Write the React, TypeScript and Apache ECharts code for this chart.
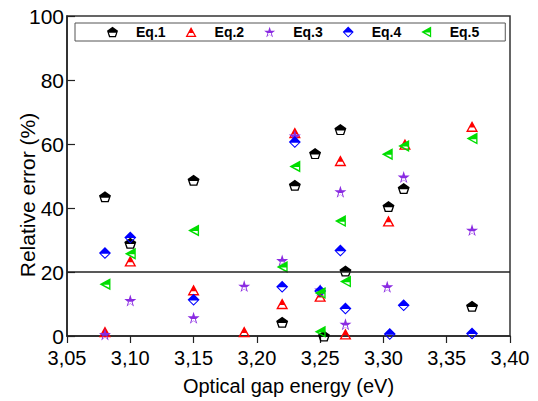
import React, { useEffect, useRef } from "react";
import * as echarts from "echarts";

const seriesNames = ["Eq.1", "Eq.2", "Eq.3", "Eq.4", "Eq.5"];
const seriesColors = ["#000000", "#ff0000", "#8a2be2", "#0000ff", "#00dd00"];

const eq1: number[][] = [
  [3.08, 43.5], [3.1, 29], [3.15, 48.7], [3.22, 4.3], [3.23, 47.1], [3.246, 57],
  [3.253, 0], [3.266, 64.5], [3.27, 20.3], [3.304, 40.5], [3.316, 46.1], [3.37, 9.3],
];
const eq2: number[][] = [
  [3.08, 1.3], [3.1, 23.4], [3.15, 14.4], [3.19, 1.3], [3.22, 10.1], [3.23, 63.5],
  [3.25, 12.4], [3.266, 54.8], [3.27, 0.6], [3.304, 35.9], [3.317, 59.9], [3.37, 65.5],
];
const eq3: number[][] = [
  [3.08, 0.5], [3.1, 11.1], [3.15, 5.7], [3.19, 15.6], [3.22, 23.6], [3.23, 62.5],
  [3.25, 14.4], [3.266, 45.1], [3.27, 3.7], [3.303, 15.4], [3.316, 49.7], [3.37, 33.1],
];
const eq4: number[][] = [
  [3.08, 25.9], [3.1, 30.8], [3.15, 11.3], [3.22, 15.4], [3.23, 60.6], [3.25, 14.1],
  [3.266, 26.7], [3.27, 8.6], [3.305, 0.6], [3.316, 9.6], [3.37, 0.8],
];
const eq5: number[][] = [
  [3.08, 16.2], [3.1, 25.7], [3.15, 33], [3.22, 21.6], [3.23, 53], [3.25, 13.4],
  [3.25, 1.3], [3.266, 35.9], [3.27, 17], [3.303, 56.8], [3.316, 59.4], [3.37, 61.7],
];
const seriesData = [eq1, eq2, eq3, eq4, eq5];

const thresholdValue = 20;
const xTitle = "Optical gap energy (eV)";
const yTitle = "Relative error (%)";

// half-filled marker shapes (top filled, bottom hollow)
const symbols = [
  "path://M10,0 L20,7.3 L16.2,19 L3.8,19 L0,7.3 Z M3.4,11 L5.6,16.9 L14.4,16.9 L16.6,11 Z",
  "path://M10,0 L20,18 L0,18 Z M6.6,11 L3.8,15.8 L16.2,15.8 L13.4,11 Z",
  "path://M10,0 L12.25,6.91 L19.51,6.91 L13.63,11.18 L15.88,18.09 L10,13.82 L4.12,18.09 L6.37,11.18 L0.49,6.91 L7.75,6.91 Z M6.85,10.92 L7.82,11.63 L6.47,15.77 L10,13.21 L13.53,15.77 L12.18,11.63 L13.15,10.92 Z",
  "path://M10,0 L20,10 L10,20 L0,10 Z M3.4,11 L10,17.5 L16.6,11 Z",
  "path://M0,10 L18,0 L18,20 Z M6.6,11 L15.8,16 L15.8,11 Z",
];
const symbolSizes = [[12, 11], [12, 11], [12, 12], [12, 12], [11, 12]];

const FONT = "'Liberation Sans', Arial, sans-serif";

export default function App() {
  const ref = useRef<HTMLDivElement>(null);
  useEffect(() => {
    if (!ref.current) return;
    const chart = echarts.init(ref.current, undefined, { renderer: "svg" });
    const series: any[] = seriesNames.map((name, i) => ({
      name,
      type: "scatter",
      data: seriesData[i],
      symbol: symbols[i],
      symbolSize: symbolSizes[i],
      itemStyle: { color: seriesColors[i], opacity: 1 },
      emphasis: { disabled: true },
      ...(i === 0
        ? {
            markLine: {
              silent: true,
              symbol: ["none", "none"],
              label: { show: false },
              lineStyle: { color: "#222", type: "solid", width: 1.5 },
              data: [{ yAxis: thresholdValue }],
            },
          }
        : {}),
    }));
    chart.setOption({
      animation: false,
      grid: {
        left: 67,
        right: 28,
        top: 16,
        bottom: 59,
        show: true,
        borderColor: "#333",
        borderWidth: 1.5,
      },
      legend: {
        left: 75,
        top: 23,
        padding: [2, 26, 2, 32],
        itemWidth: 11,
        itemHeight: 11,
        itemGap: 20,
        borderColor: "#555",
        borderWidth: 1,
        data: seriesNames,
        textStyle: {
          fontSize: 14,
          fontWeight: "bold",
          fontFamily: FONT,
          color: "#000",
          padding: [0, 0, 0, 13],
        },
      },
      graphic: [
        {
          type: "text",
          x: 27,
          y: 195,
          rotation: Math.PI / 2,
          style: {
            text: yTitle,
            fontSize: 21,
            fontFamily: FONT,
            fill: "#000",
            textAlign: "center",
            textVerticalAlign: "middle",
          },
        },
      ],
      xAxis: {
        type: "value",
        min: 3.05,
        max: 3.4,
        interval: 0.05,
        name: xTitle,
        nameLocation: "middle",
        nameGap: 40,
        nameTextStyle: { fontSize: 20, fontFamily: FONT, color: "#000" },
        axisLine: { lineStyle: { color: "#222", width: 1.5 } },
        axisTick: { show: true, inside: false, length: 7, lineStyle: { color: "#222", width: 1.2 } },
        axisLabel: {
          fontSize: 20,
          fontFamily: FONT,
          color: "#000",
          margin: 12,
          formatter: (v: number) => v.toFixed(2).replace(".", ","),
        },
        splitLine: { show: false },
      },
      yAxis: {
        type: "value",
        min: 0,
        max: 100,
        interval: 20,
        axisLine: { show: true, lineStyle: { color: "#222", width: 1.5 } },
        axisTick: { show: true, inside: true, length: 8, lineStyle: { color: "#222", width: 1.2 } },
        axisLabel: { fontSize: 21, fontFamily: FONT, color: "#000", margin: 3 },
        splitLine: { show: false },
      },
      series,
    });
    return () => chart.dispose();
  }, []);
  return (
    <div
      ref={ref}
      style={{ position: "fixed", left: 0, top: 0, width: 538, height: 401, background: "#fff" }}
    />
  );
}
